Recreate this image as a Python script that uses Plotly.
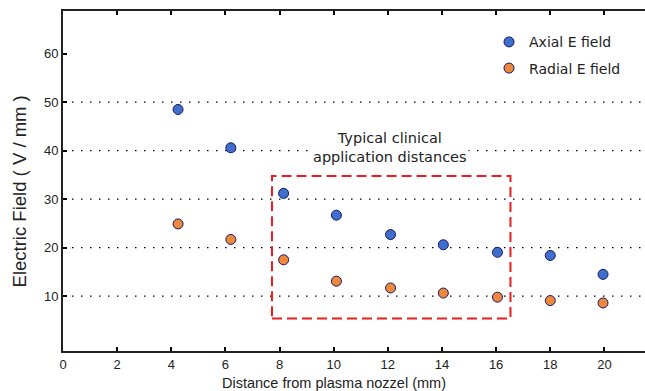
import plotly.graph_objects as go

# Data
distance = [4.25, 6.2, 8.15, 10.1, 12.1, 14.05, 16.05, 18.0, 19.95]
axial_field = [48.5, 40.6, 31.2, 26.7, 22.7, 20.6, 19.05, 18.4, 14.5]
radial_field = [24.9, 21.7, 17.5, 13.1, 11.7, 10.65, 9.8, 9.1, 8.6]
x_ticks = [0, 2, 4, 6, 8, 10, 12, 14, 16, 18, 20]
y_ticks = [10, 20, 30, 40, 50, 60]
grid_levels = [10, 20, 30, 40, 50]
box_x = [7.72, 16.53]
box_y = [5.4, 34.8]
box_label = "Typical clinical<br>application distances"
x_title = "Distance from plasma nozzel (mm)"
y_title = "Electric Field ( V / mm )"

marker_line = dict(color="#17176b", width=1)
fig = go.Figure()
fig.add_trace(go.Scatter(x=distance, y=axial_field, mode="markers", name="Axial E field",
                         legendgroup="a",
                         marker=dict(size=10, color="#3f6fcb", line=marker_line)))
fig.add_trace(go.Scatter(x=distance, y=radial_field, mode="markers", name="Radial E field",
                         legendgroup="r",
                         marker=dict(size=10, color="#ef883a", line=marker_line)))

shapes = []
for g in grid_levels:
    shapes.append(dict(type="line", xref="paper", x0=0, x1=1, yref="y", y0=g, y1=g,
                       line=dict(color="black", width=1.3, dash="1.5px,7.5px"), layer="below"))
shapes.append(dict(type="rect", xref="x", yref="y", x0=box_x[0], x1=box_x[1], y0=box_y[0], y1=box_y[1],
                   line=dict(color="#ee1c1c", width=2, dash="10px,5px")))

fig.update_layout(
    width=645, height=391,
    margin=dict(l=63, r=0, t=11, b=40),
    paper_bgcolor="white", plot_bgcolor="white",
    showlegend=True,
    legend=dict(x=0.732, y=0.955, xanchor="left", yanchor="top", bgcolor="rgba(0,0,0,0)",
                font=dict(family="DejaVu Sans", size=14, color="#222"),
                tracegroupgap=5),
    shapes=shapes,
    annotations=[
        dict(x=(box_x[0] + box_x[1]) / 2 - 0.05, y=40.7, xref="x", yref="y", text=box_label,
             showarrow=False, bgcolor="white",
             font=dict(family="DejaVu Sans", size=14.5, color="#222")),
        dict(x=10, y=0, xref="x", yref="paper", yanchor="middle", yshift=-32, text=x_title,
             showarrow=False, font=dict(family="Liberation Sans", size=14.5, color="#222")),
        dict(x=0, y=31.6, xref="paper", yref="y", xanchor="center", yanchor="middle", xshift=-44,
             text=y_title, textangle=-90, showarrow=False,
             font=dict(family="Liberation Sans", size=18.5, color="#222")),
    ],
    xaxis=dict(range=[0, 21.5], tickvals=x_ticks, ticks="inside", ticklen=4, tickwidth=1.5,
               tickcolor="black", showline=True, linecolor="#222", linewidth=2, mirror="ticks",
               showgrid=False, zeroline=False,
               tickfont=dict(family="Liberation Sans", size=13, color="#222")),
    yaxis=dict(range=[-1.3, 68.8], tickvals=y_ticks, ticks="inside", ticklen=4, tickwidth=1.5,
               tickcolor="black", showline=True, linecolor="#222", linewidth=2,
               showgrid=False, zeroline=False,
               tickfont=dict(family="Liberation Sans", size=13, color="#222")),
)
fig.write_html("out.html")
